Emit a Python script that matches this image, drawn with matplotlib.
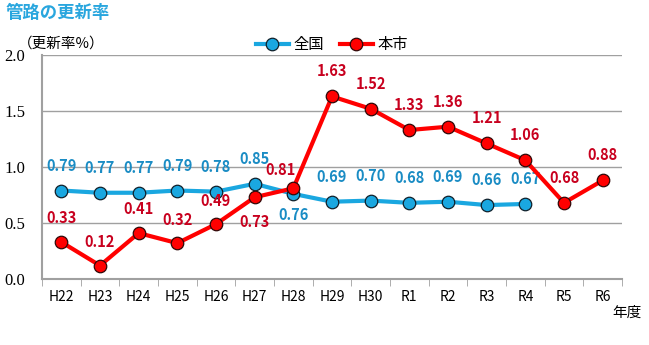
import matplotlib
matplotlib.use('Agg')
import matplotlib.pyplot as plt
import numpy as np

plt.rcParams['font.family'] = ['Noto Sans CJK JP', 'DejaVu Sans']

years = ['H22', 'H23', 'H24', 'H25', 'H26', 'H27', 'H28', 'H29', 'H30',
         'R1', 'R2', 'R3', 'R4', 'R5', 'R6']
zenkoku = [0.79, 0.77, 0.77, 0.79, 0.78, 0.85, 0.76, 0.69, 0.70,
           0.68, 0.69, 0.66, 0.67]
honshi = [0.33, 0.12, 0.41, 0.32, 0.49, 0.73, 0.81, 1.63, 1.52,
          1.33, 1.36, 1.21, 1.06, 0.68, 0.88]
# label offsets in points (dx, dy)
zenkoku_off = [(0, 18)] * 6 + [(0, -15)] + [(0, 18)] * 6
honshi_off = [(0, 17)] * 5 + [(0, -18), (-9, 13)] + [(0, 18)] * 8

blue_line = '#1aa7e0'
blue_text = '#1a8cc4'
red_line = '#ff0000'
red_text = '#c8001e'

fig = plt.figure(figsize=(6.49, 3.45), dpi=100)
ax = fig.add_axes([0.0647, 0.1913, 0.8937, 0.6493])

x = np.arange(len(years))
xz = x[:len(zenkoku)]

ax.plot(xz, zenkoku, color=blue_line, lw=3, marker='o', ms=9,
        mfc=blue_line, mec='#10202a', mew=0.9, label='全国', zorder=3)
ax.plot(x, honshi, color=red_line, lw=3, marker='o', ms=9,
        mfc=red_line, mec='#300808', mew=0.9, label='本市', zorder=4)

for xi, v, off in zip(xz, zenkoku, zenkoku_off):
    ax.annotate(f'{v:.2f}', (xi, v), xytext=off, textcoords='offset points',
                ha='center', va='center', color=blue_text, fontsize=10.5,
                fontweight='bold')
for xi, v, off in zip(x, honshi, honshi_off):
    ax.annotate(f'{v:.2f}', (xi, v), xytext=off, textcoords='offset points',
                ha='center', va='center', color=red_text, fontsize=10.5,
                fontweight='bold')

ax.set_xlim(-0.5, len(years) - 0.5)
ax.set_ylim(0, 2.0)
ax.set_yticks([0, 0.5, 1.0, 1.5, 2.0])
ax.set_yticklabels(['0.0', '0.5', '1.0', '1.5', '2.0'], fontfamily='Liberation Serif', fontsize=12)
ax.set_xticks(x)
ax.set_xticklabels(years, fontsize=10)
ax.set_xticks(np.arange(-0.5, len(years)), minor=True)
ax.tick_params(axis='x', which='major', length=0, pad=8)
ax.tick_params(axis='x', which='minor', length=5, color='#a0a0a0', direction='out')
ax.tick_params(axis='y', length=0, pad=12)

ax.grid(axis='y', color='#a0a0a0', lw=1)
ax.set_axisbelow(True)
for s in ['top', 'right']:
    ax.spines[s].set_visible(False)
ax.spines['left'].set_color('#a0a0a0')
ax.spines['bottom'].set_color('#a0a0a0')
ax.spines['left'].set_linewidth(1.5)
ax.spines['bottom'].set_linewidth(1.5)

fig.text(0.008, 0.962, '管路の更新率', color='#29a6de', fontsize=12.5,
         fontweight='bold', ha='left', va='center')
fig.text(0.028, 0.875, '（更新率%）', fontsize=10.5, ha='left', va='center')
fig.text(0.988, 0.092, '年度', fontsize=10.5, ha='right', va='center')

ax.legend(loc='lower center', bbox_to_anchor=(0.5, 0.98), ncol=2, frameon=False,
          fontsize=11, handlelength=2.2, columnspacing=1.0, handletextpad=0.3,
          borderaxespad=0)

fig.savefig('out.png', dpi=100)
